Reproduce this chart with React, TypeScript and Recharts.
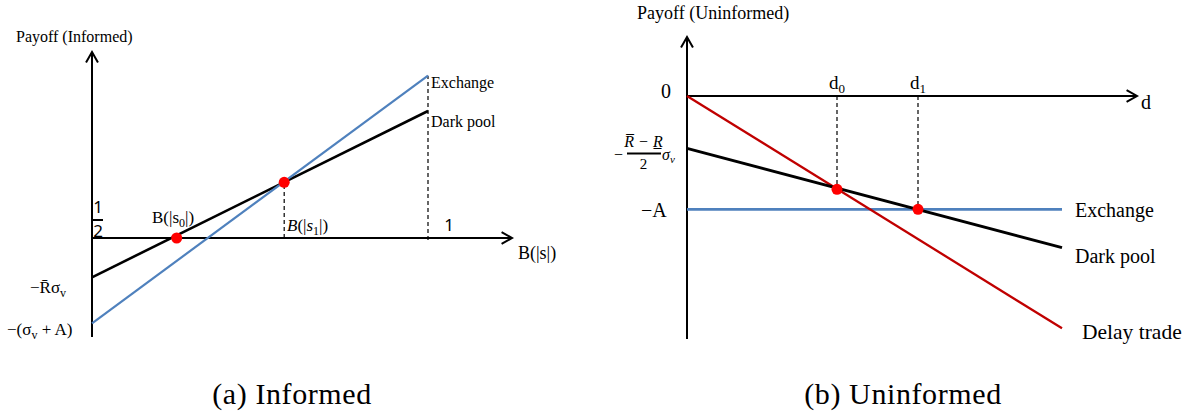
import React from 'react';
import { ComposedChart, Line, Scatter, XAxis, YAxis, ReferenceLine } from 'recharts';

// ---------- Panel (a): Informed ----------
const informedX = [0, 1];
const informedExchange = [-0.853, 1.623];
const informedDarkPool = [-0.393, 1.27];
const informedDotsX = [0.252, 0.572]; // B(|s0|), B(|s1|)
const informedDotsY = [0, 0.557];
const informedAxisXEnd = 1.25;
const informedAxisYRange = [-0.99, 1.86];

// ---------- Panel (b): Uninformed ----------
const uninformedX = [0, 1];
const uninformedExchange = [-1.133, -1.133];
const uninformedDarkPool = [-0.523, -1.517];
const uninformedDelay = [0, -2.323];
const uninformedDotsX = [0.4, 0.616]; // d0, d1
const uninformedDotsY = [-0.933, -1.133];
const uninformedAxisXEnd = 1.2;
const uninformedAxisYRange = [-2.43, 0.59];

const informedData = informedX.map((x, i) => ({ x, exchange: informedExchange[i], dark: informedDarkPool[i] }));
const informedDots = informedDotsX.map((x, i) => ({ x, y: informedDotsY[i] }));
const uninformedData = uninformedX.map((x, i) => ({
  x,
  exchange: uninformedExchange[i],
  dark: uninformedDarkPool[i],
  delay: uninformedDelay[i],
}));
const uninformedDots = uninformedDotsX.map((x, i) => ({ x, y: uninformedDotsY[i] }));

const SERIF = 'Liberation Serif, Tinos, Times New Roman, DejaVu Serif, Noto Serif, serif';
const SANS = 'Noto Sans, DejaVu Sans, sans-serif';
const BLUE = '#4f81bd';
const RED_LINE = '#c00000';
const RED_DOT = '#ff0000';

function ArrowLine(props: any) {
  const { x1, y1, x2, y2 } = props;
  const ang = Math.atan2(y2 - y1, x2 - x1);
  const L = 12;
  const spread = 0.52;
  const ax = x2 - L * Math.cos(ang - spread);
  const ay = y2 - L * Math.sin(ang - spread);
  const bx = x2 - L * Math.cos(ang + spread);
  const by = y2 - L * Math.sin(ang + spread);
  return (
    <g>
      <line x1={x1} y1={y1} x2={x2} y2={y2} stroke="#000" strokeWidth={2} />
      <polyline points={`${ax},${ay} ${x2},${y2} ${bx},${by}`} fill="none" stroke="#000" strokeWidth={2} />
    </g>
  );
}

const DotShape = (p: any) => <circle cx={p.cx} cy={p.cy} r={5.5} fill={RED_DOT} />;

function InformedChart() {
  return (
    <ComposedChart width={590} height={415} data={informedData} margin={{ top: 0, right: 0, bottom: 0, left: 0 }}>
      <XAxis type="number" dataKey="x" domain={[-0.27381, 1.48214]} hide allowDataOverflow />
      <YAxis type="number" domain={[-1.77, 2.38]} hide allowDataOverflow />
      <ReferenceLine
        segment={[{ x: informedDotsX[1], y: 0 }, { x: informedDotsX[1], y: informedDotsY[1] }]}
        stroke="#000" strokeWidth={1.2} strokeDasharray="4 3"
      />
      <ReferenceLine
        segment={[{ x: informedX[1], y: -0.02 }, { x: informedX[1], y: informedExchange[1] }]}
        stroke="#000" strokeWidth={1.2} strokeDasharray="4 3"
      />
      <ReferenceLine segment={[{ x: 0, y: 0 }, { x: informedAxisXEnd, y: 0 }]} shape={ArrowLine} />
      <ReferenceLine segment={[{ x: 0, y: informedAxisYRange[0] }, { x: 0, y: informedAxisYRange[1] }]} shape={ArrowLine} />
      <Line type="linear" dataKey="dark" stroke="#000" strokeWidth={2.6} dot={false} activeDot={false} isAnimationActive={false} />
      <Line type="linear" dataKey="exchange" stroke={BLUE} strokeWidth={2.2} dot={false} activeDot={false} isAnimationActive={false} />
      <Scatter data={informedDots} dataKey="y" shape={DotShape} isAnimationActive={false} />
    </ComposedChart>
  );
}

function UninformedChart() {
  return (
    <ComposedChart width={596} height={415} data={uninformedData} margin={{ top: 0, right: 0, bottom: 0, left: 0 }}>
      <XAxis type="number" dataKey="x" domain={[-0.258667, 1.330667]} hide allowDataOverflow />
      <YAxis type="number" domain={[-3.19, 0.96]} hide allowDataOverflow />
      {uninformedDotsX.map((x, i) => (
        <ReferenceLine
          key={i}
          segment={[{ x, y: 0 }, { x, y: uninformedDotsY[i] }]}
          stroke="#000" strokeWidth={1.2} strokeDasharray="4 3"
        />
      ))}
      <ReferenceLine segment={[{ x: 0, y: 0 }, { x: uninformedAxisXEnd, y: 0 }]} shape={ArrowLine} />
      <ReferenceLine segment={[{ x: 0, y: uninformedAxisYRange[0] }, { x: 0, y: uninformedAxisYRange[1] }]} shape={ArrowLine} />
      <Line type="linear" dataKey="exchange" stroke={BLUE} strokeWidth={2.7} dot={false} activeDot={false} isAnimationActive={false} />
      <Line type="linear" dataKey="delay" stroke={RED_LINE} strokeWidth={2.3} dot={false} activeDot={false} isAnimationActive={false} />
      <Line type="linear" dataKey="dark" stroke="#000" strokeWidth={2.8} dot={false} activeDot={false} isAnimationActive={false} />
      <Scatter data={uninformedDots} dataKey="y" shape={DotShape} isAnimationActive={false} />
    </ComposedChart>
  );
}

function Labels() {
  const serif = { fontFamily: SERIF };
  const sans = { fontFamily: SANS };
  return (
    <svg width={1186} height={415} style={{ position: 'absolute', left: 0, top: 0, pointerEvents: 'none' }}>
      {/* Panel (a) */}
      <text x={16} y={42} style={serif} fontSize={16}>Payoff (Informed)</text>
      <text x={431} y={88} style={serif} fontSize={16}>Exchange</text>
      <text x={431} y={127} style={serif} fontSize={16}>Dark pool</text>
      <text x={98} y={213} style={sans} fontSize={17} textAnchor="middle">1</text>
      <line x1={93} y1={220} x2={103} y2={220} stroke="#000" strokeWidth={2} />
      <text x={98} y={237} style={sans} fontSize={17} textAnchor="middle">2</text>
      <text x={152} y={223} style={serif} fontSize={17}>
        B(|s<tspan fontSize={12} dy={4}>0</tspan><tspan dy={-4}>|)</tspan>
      </text>
      <text x={287} y={231} style={serif} fontSize={17}>
        <tspan fontStyle="italic">B</tspan>(|<tspan fontStyle="italic">s</tspan><tspan fontSize={12} dy={4}>1</tspan><tspan dy={-4}>|)</tspan>
      </text>
      <text x={449} y={231} style={sans} fontSize={17} textAnchor="middle">1</text>
      <text x={518} y={259} style={serif} fontSize={18}>B(|s|)</text>
      <text x={30} y={293} style={serif} fontSize={17}>
        {'\u2212R\u0304\u03c3'}<tspan fontSize={12} dy={4}>v</tspan>
      </text>
      <text x={7} y={335} style={serif} fontSize={17}>
        {'\u2212(\u03c3'}<tspan fontSize={12} dy={4}>v</tspan><tspan dy={-4}>{' + A)'}</tspan>
      </text>
      <text x={292} y={404} style={serif} fontSize={30} letterSpacing={0.6} textAnchor="middle">(a) Informed</text>

      {/* Panel (b) */}
      <text x={637} y={19} style={serif} fontSize={18}>Payoff (Uninformed)</text>
      <text x={661} y={98} style={serif} fontSize={20}>0</text>
      <text x={837} y={89} style={serif} fontSize={19} textAnchor="middle">
        d<tspan fontSize={13} dy={4}>0</tspan>
      </text>
      <text x={918} y={89} style={serif} fontSize={19} textAnchor="middle">
        d<tspan fontSize={13} dy={4}>1</tspan>
      </text>
      <text x={1141} y={109} style={serif} fontSize={20}>d</text>
      <text x={1075} y={217} style={serif} fontSize={20}>Exchange</text>
      <text x={1075} y={263} style={serif} fontSize={20}>Dark pool</text>
      <text x={1082} y={339} style={serif} fontSize={21.5}>Delay trade</text>
      <text x={641} y={217} style={serif} fontSize={20}>{'\u2212A'}</text>
      <text x={614} y={160} style={serif} fontSize={16}>{'\u2212'}</text>
      <text x={643.5} y={147} style={serif} fontSize={16} fontStyle="italic" textAnchor="middle">
        {'R\u0305 \u2212 R\u0332'}
      </text>
      <line x1={627} y1={153.5} x2={661} y2={153.5} stroke="#000" strokeWidth={2} />
      <text x={643.5} y={169} style={serif} fontSize={15} textAnchor="middle">2</text>
      <text x={662} y={160} style={serif} fontSize={16} fontStyle="italic">
        {'\u03c3'}<tspan fontSize={11} dy={3}>v</tspan>
      </text>
      <text x={903} y={404} style={serif} fontSize={30} letterSpacing={0.6} textAnchor="middle">(b) Uninformed</text>
    </svg>
  );
}

export default function App() {
  return (
    <div style={{ position: 'absolute', left: 0, top: 0, width: 1186, height: 415, background: '#fff', overflow: 'hidden' }}>
      <div style={{ position: 'absolute', left: 0, top: 0 }}>
        <InformedChart />
      </div>
      <div style={{ position: 'absolute', left: 590, top: 0 }}>
        <UninformedChart />
      </div>
      <Labels />
    </div>
  );
}
